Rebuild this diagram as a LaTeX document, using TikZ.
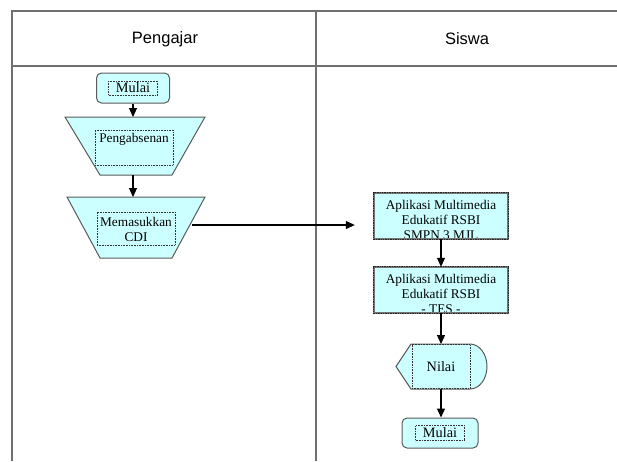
\documentclass[tikz,border=0pt]{standalone}
\usepackage{fontspec}
\setmainfont{Liberation Serif}
\newfontfamily\hdfont{Liberation Sans}
\usetikzlibrary{arrows.meta}
\definecolor{fillc}{HTML}{CCFFFF}
\definecolor{linec}{HTML}{707070}
\definecolor{shapec}{HTML}{5A5A5A}
\begin{document}
\begin{tikzpicture}[x=1pt,y=-1pt,
  lane/.style={draw=linec, line width=1.5pt},
  shapebox/.style={fill=fillc, draw=shapec, line width=1pt},
  dotbox/.style={draw=black!80, densely dotted, line width=0.6pt, inner sep=0pt},
  arr/.style={-{Triangle[length=9pt,width=8pt]}, line width=1.1pt},
  txt/.style={font=\fontsize{13.3}{15}\selectfont, text=black, align=center, inner sep=0pt},
  bigtxt/.style={font=\fontsize{14.3}{16}\selectfont, text=black, align=center, inner sep=0pt},
  hdr/.style={font=\hdfont\fontsize{16.5}{18}\selectfont, text=black},
  appbox/.style={fill=fillc, minimum width=134pt, minimum height=46pt, inner sep=0pt},
  appborder/.style={draw=black!55, line width=1.8pt}
]
\useasboundingbox (0,0) rectangle (617,461);

% swimlane table
\draw[lane] (12,461) -- (12,11) -- (617,11);
\draw[lane] (12,66) -- (617,66);
\draw[lane] (316,11) -- (316,461);
\node[hdr] (hpeng) at (165,39) {Pengajar};
\node[hdr] (hsis) at (467,39) {Siswa};

% Mulai (left)
\node[shapebox, rounded corners=5pt, minimum width=73pt, minimum height=30pt, inner sep=0pt] (start) at (133,88) {};
\node[dotbox, bigtxt, minimum width=49pt, minimum height=14pt] (startlbl) at (start) {Mulai};

% Pengabsenan trapezoid
\draw[shapebox] (65,117) -- (205,117) -- (172,175) -- (100,175) -- cycle;
\coordinate (absentop) at (133,117);
\coordinate (absenbot) at (133,175);
\node[dotbox, minimum width=78pt, minimum height=35pt] (absenbox) at (134,147.5) {};
\node[txt] (absenlbl) at (134,139) {Pengabsenan};

% Memasukkan CDI trapezoid
\draw[shapebox] (67,197) -- (205,197) -- (172,258) -- (100,258) -- cycle;
\coordinate (cditop) at (133,197);
\coordinate (cdiout) at (192,225);
\node[dotbox, minimum width=78pt, minimum height=33pt] (cdibox) at (136,228.5) {};
\node[txt] (cdilbl) at (136,229) {Memasukkan\\CDI};

% Aplikasi boxes (right)
\node[appbox] (app1) at (441,216) {};
\node[txt] (app1lbl) at (441,220) {Aplikasi Multimedia\\Edukatif RSBI\\SMPN 3 MJL};
\draw[appborder] (app1.south west) rectangle (app1.north east);
\draw[black!85, densely dotted, line width=0.7pt] (app1.south west) rectangle (app1.north east);

\node[appbox] (app2) at (441,290) {};
\node[txt] (app2lbl) at (441,294) {Aplikasi Multimedia\\Edukatif RSBI\\- TES -};
\draw[appborder] (app2.south west) rectangle (app2.north east);
\draw[black!85, densely dotted, line width=0.7pt] (app2.south west) rectangle (app2.north east);

% Nilai display shape
\draw[shapebox] (396,366.5) -- (411,344) -- (470,344)
  .. controls (479.4,344) and (487,354.1) .. (487,366.5)
  .. controls (487,378.9) and (479.4,389) .. (470,389) -- (411,389) -- cycle;
\coordinate (nilaitop) at (441,344);
\node[dotbox, bigtxt, minimum width=58pt, minimum height=44pt] (nilai) at (441,366.5) {Nilai};

% Mulai (right)
\node[shapebox, rounded corners=5pt, minimum width=76pt, minimum height=30pt, inner sep=0pt] (finish) at (440,433) {};
\node[dotbox, bigtxt, minimum width=49pt, minimum height=15pt] (finishlbl) at (finish) {Mulai};

% connectors
\draw[arr] (start.south) -- (absentop);
\draw[arr] (absenbot) -- (cditop);
\draw[arr, shorten >=19pt] (cdiout) -- (cdiout -| app1.west);
\draw[arr] (app1.south) -- (app2.north);
\draw[arr] (app2.south) -- (nilaitop);
\draw[arr] (nilai.south) -- (nilai.south |- finish.north);
\end{tikzpicture}
\end{document}
